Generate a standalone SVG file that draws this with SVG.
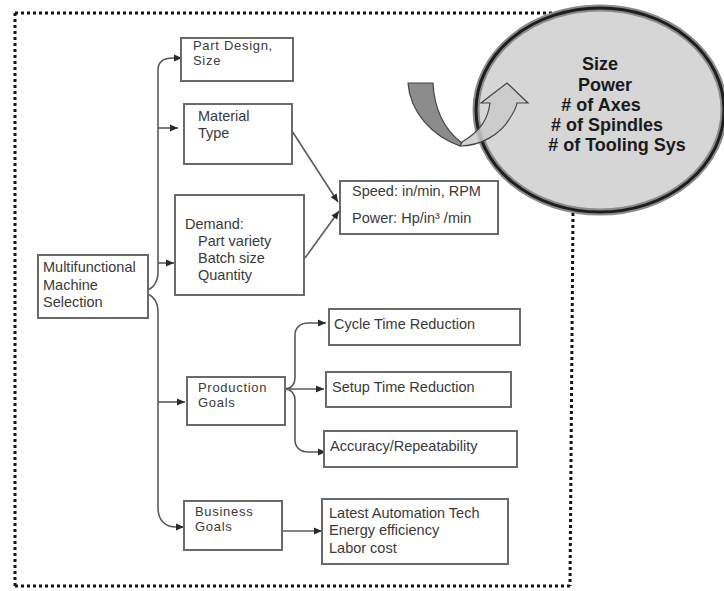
<svg xmlns="http://www.w3.org/2000/svg" width="724" height="591" viewBox="0 0 724 591">
<defs>
<style>
.box{fill:#fff;stroke:#6a6a6a;stroke-width:2}
.t{font-family:"Liberation Sans",Arial,sans-serif;font-size:14.5px;fill:#3a3a3a}
.s{font-family:"Liberation Sans",Arial,sans-serif;font-size:13px;letter-spacing:0.7px;fill:#3a3a3a}
.b{font-family:"Liberation Sans",Arial,sans-serif;font-size:18px;font-weight:bold;fill:#1a1a1a;text-anchor:middle}
.c{fill:none;stroke:#5a5a5a;stroke-width:1.6}
.dot{fill:none;stroke:#151515;stroke-width:3;stroke-dasharray:3 3}
</style>
<marker id="ah" markerUnits="userSpaceOnUse" markerWidth="10" markerHeight="10" viewBox="0 0 10 10" refX="9" refY="5" orient="auto">
<path d="M1,1.5 L9,5 L1,8.5 z" fill="#2a2a2a"/>
</marker>
</defs>
<rect width="724" height="591" fill="#fff"/>
<g id="border">
<path class="dot" d="M15,13 L560,13"/>
<path class="dot" d="M15,13 L15,586"/>
<path class="dot" d="M15,586 L570,586"/>
<path class="dot" d="M573,213 L570,586"/>
</g>
<g id="result">
<ellipse cx="600" cy="110" rx="124" ry="102" fill="#d6d6d6" stroke="#8a8a8a" stroke-width="7"/>
<ellipse cx="600" cy="110" rx="124" ry="102" fill="none" stroke="#1e1e1e" stroke-width="3"/>
<text class="b" x="600" y="70">Size</text>
<text class="b" x="605" y="91">Power</text>
<text class="b" x="601" y="111"># of Axes</text>
<text class="b" x="607" y="131"># of Spindles</text>
<text class="b" x="617" y="151"># of Tooling Sys</text>
</g>
<g id="curved-arrow">
<path d="M408,83 L433,83 C434,108 444,130 462,143 L460,146 C432,136 410,112 408,83 Z" fill="#8c8c8c" stroke="#444" stroke-width="1.2"/>
<path d="M460,146 C480,146 500,135 510,118 C514,112 516,108 517,103 L528,103 L507,83 L481,103 L490,103 C488,118 482,130 462,142 Z" fill="#cacaca" fill-opacity="0.85" stroke="#444" stroke-width="1.2"/>
</g>
<g id="connectors">
<path class="c" marker-end="url(#ah)" d="M158,80 L158,70 C158,62 163,58 173,58 L182,58"/>
<path class="c" d="M158,80 L158,272"/>
<path class="c" d="M138,292 C150,292 158,285 158,272"/>
<path class="c" d="M138,292 C150,292 158,299 158,312"/>
<path class="c" marker-end="url(#ah)" d="M158,312 L158,508 C158,520 165,527 176,527 L184,527"/>
<path class="c" marker-end="url(#ah)" d="M158,128 L178,128"/>
<path class="c" marker-end="url(#ah)" d="M158,263 L174,263"/>
<path class="c" marker-end="url(#ah)" d="M158,402 L185,402"/>
<path class="c" marker-end="url(#ah)" d="M292,131 L338,202"/>
<path class="c" marker-end="url(#ah)" d="M305,258 L339,211"/>
<path class="c" marker-end="url(#ah)" d="M285,389 C291,389 295,384 295,378 L295,335 C295,328 300,323 308,323 L326,323"/>
<path class="c" marker-end="url(#ah)" d="M285,389 L324,389"/>
<path class="c" marker-end="url(#ah)" d="M285,389 C291,389 295,394 295,400 L295,440 C295,447 300,452 308,452 L326,452"/>
<path class="c" marker-end="url(#ah)" d="M282,531 L322,531"/>
</g>
<g id="part-design">
<rect class="box" x="181" y="38" width="112" height="43"/>
<text class="s" x="193" y="50">Part Design,</text>
<text class="s" x="193" y="65">Size</text>
</g>
<g id="material-type">
<rect class="box" x="184" y="104" width="108" height="60"/>
<text class="t" x="198" y="121">Material</text>
<text class="t" x="198" y="138">Type</text>
</g>
<g id="demand">
<rect class="box" x="175" y="195" width="129" height="100"/>
<text class="t" x="185" y="229">Demand:</text>
<text class="t" x="198" y="246">Part variety</text>
<text class="t" x="198" y="263">Batch size</text>
<text class="t" x="198" y="280">Quantity</text>
</g>
<g id="machine-selection">
<rect class="box" x="38" y="255" width="110" height="63"/>
<text class="t" x="43" y="272">Multifunctional</text>
<text class="t" x="43" y="290">Machine</text>
<text class="t" x="43" y="307">Selection</text>
</g>
<g id="speed-power">
<rect class="box" x="340" y="181" width="158" height="53"/>
<text class="t" x="352" y="196">Speed: in/min, RPM</text>
<text class="t" x="352" y="223">Power: Hp/in³ /min</text>
</g>
<g id="production-goals">
<rect class="box" x="187" y="377" width="98" height="48"/>
<text class="s" x="198" y="392">Production</text>
<text class="s" x="198" y="407">Goals</text>
</g>
<g id="business-goals">
<rect class="box" x="184" y="501" width="98" height="49"/>
<text class="s" x="195" y="516">Business</text>
<text class="s" x="195" y="531">Goals</text>
</g>
<g id="cycle-time">
<rect class="box" x="329" y="309" width="191" height="36"/>
<text class="t" x="334" y="329">Cycle Time Reduction</text>
</g>
<g id="setup-time">
<rect class="box" x="326" y="372" width="185" height="35"/>
<text class="t" x="332" y="392">Setup Time Reduction</text>
</g>
<g id="accuracy">
<rect class="box" x="324" y="431" width="193" height="36"/>
<text class="t" x="330" y="451">Accuracy/Repeatability</text>
</g>
<g id="business-items">
<rect class="box" x="322" y="499" width="186" height="65"/>
<text class="t" x="329" y="518">Latest Automation Tech</text>
<text class="t" x="329" y="535">Energy efficiency</text>
<text class="t" x="329" y="553">Labor cost</text>
</g>
</svg>
